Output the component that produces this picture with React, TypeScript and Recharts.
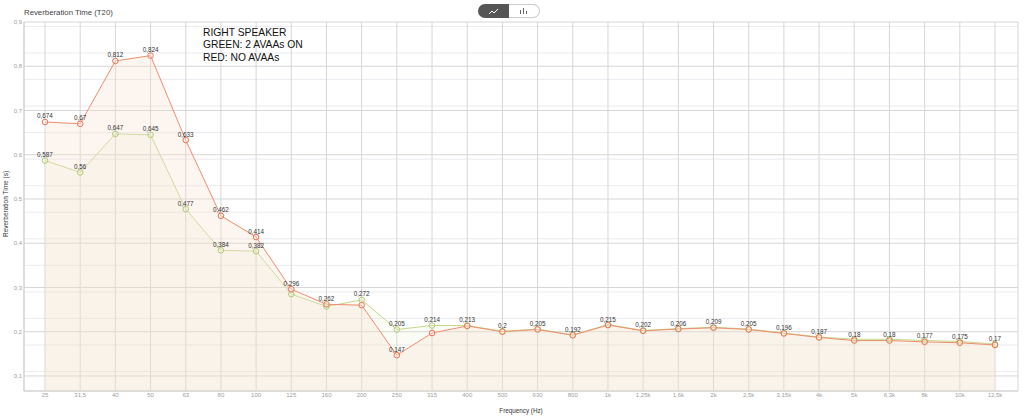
import { ComposedChart, Area, XAxis, YAxis, CartesianGrid, LabelList } from 'recharts';

const frequencies = ['25', '31,5', '40', '50', '63', '80', '100', '125', '160', '200', '250', '315', '400', '500', '630', '800', '1k', '1,25k', '1,6k', '2k', '2,5k', '3,15k', '4k', '5k', '6,3k', '8k', '10k', '12,5k'];

// RED: no AVAAs
const noAvaas = [0.674, 0.67, 0.812, 0.824, 0.633, 0.462, 0.414, 0.296, 0.262, 0.26, 0.147, 0.197, 0.213, 0.2, 0.205, 0.192, 0.215, 0.202, 0.206, 0.209, 0.205, 0.196, 0.187, 0.18, 0.18, 0.177, 0.175, 0.17];

// GREEN: 2 AVAAs on
const twoAvaasOn = [0.587, 0.56, 0.647, 0.645, 0.477, 0.384, 0.382, 0.285, 0.257, 0.272, 0.205, 0.214, 0.214, 0.201, 0.206, 0.193, 0.216, 0.203, 0.207, 0.21, 0.206, 0.197, 0.188, 0.183, 0.183, 0.18, 0.178, 0.172];

const yTicks = [0.1, 0.2, 0.3, 0.4, 0.5, 0.6, 0.7, 0.8, 0.9];

const data = frequencies.map((f, i) => ({ freq: f, red: noAvaas[i], green: twoAvaasOn[i] }));

// minor gridlines every 0.01
const minorLines: number[] = [];
for (let v = 7; v < 90; v++) minorLines.push(v / 100);

const RED = '#ef8d6d';
const GREEN = '#c4d98b';
const FONT = '"Liberation Sans", Arial, Helvetica, sans-serif';

const fmt = (v: number) => String(v).replace('.', ',');

// hide labels that would overlap, the way the original chart does
const showGreen = (i: number) => {
  const d = twoAvaasOn[i] - noAvaas[i];
  return d > 0.005 || d < -0.025;
};
const showRed = (i: number) => {
  const d = twoAvaasOn[i] - noAvaas[i];
  return !(showGreen(i) && d > 0 && d < 0.025);
};

const makeLabel = (which: 'red' | 'green') => (props: any) => {
  const { x, y, value, index } = props;
  const ok = which === 'red' ? showRed(index) : showGreen(index);
  if (!ok) return null;
  return (
    <text x={x} y={y - 3.5} textAnchor="middle" fontSize={6.3} fill="#333" fontFamily={FONT}>
      {fmt(value)}
    </text>
  );
};

function Toggle() {
  return (
    <div style={{ position: 'absolute', left: 478, top: 4, width: 62, height: 14, display: 'flex' }}>
      <div style={{ width: 31, height: 14, background: '#555', borderRadius: '7px 0 0 7px', display: 'flex', alignItems: 'center', justifyContent: 'center' }}>
        <svg width="10" height="7">
          <polyline points="0,6 3,3 5,5 9,1" fill="none" stroke="#fff" strokeWidth="1" />
        </svg>
      </div>
      <div style={{ width: 30, height: 12, background: '#fff', border: '1px solid #ccc', borderLeft: 'none', borderRadius: '0 7px 7px 0', display: 'flex', alignItems: 'center', justifyContent: 'center' }}>
        <svg width="8" height="6">
          <rect x="0" y="2" width="1" height="4" fill="#666" />
          <rect x="3" y="0" width="1" height="6" fill="#666" />
          <rect x="6" y="3" width="1" height="3" fill="#666" />
        </svg>
      </div>
    </div>
  );
}

export default function App() {
  return (
    <div style={{ position: 'absolute', left: 0, top: 0, width: 1024, height: 420, background: '#fff', fontFamily: FONT }}>
      <ComposedChart width={1024} height={420} data={data} margin={{ top: 22, right: 6, left: 0, bottom: 0 }}>
        <CartesianGrid horizontalValues={minorLines} vertical={false} stroke="#ebebf1" strokeWidth={1} />
        <CartesianGrid stroke="#d6d6d6" strokeWidth={1} />
        <XAxis
          dataKey="freq"
          scale="point"
          padding={{ left: 21, right: 23 }}
          height={29}
          tickLine={false}
          tickSize={2}
          tickMargin={0}
          axisLine={{ stroke: '#d0d0d0' }}
          tick={{ fontSize: 6, fill: '#a0a0a0', fontFamily: FONT }}
          interval={0}
        />
        <YAxis
          domain={[0.066, 0.9]}
          ticks={yTicks}
          allowDataOverflow
          width={24}
          tickLine={false}
          tickSize={0}
          tickMargin={2}
          axisLine={{ stroke: '#d0d0d0' }}
          tick={{ fontSize: 6, fill: '#a0a0a0', fontFamily: FONT }}
          tickFormatter={fmt}
        />
        <YAxis yAxisId="edge" orientation="right" width={0} tick={false} tickLine={false} axisLine={{ stroke: '#d0d0d0' }} />
        <Area
          type="linear"
          dataKey="green"
          stroke={GREEN}
          strokeWidth={1}
          fill="#e3ebc4"
          fillOpacity={0.15}
          dot={{ r: 2.8, fill: '#fff', stroke: '#b2cc6e', strokeWidth: 1 }}
          isAnimationActive={false}
        >
          <LabelList dataKey="green" content={makeLabel('green')} />
        </Area>
        <Area
          type="linear"
          dataKey="red"
          stroke={RED}
          strokeWidth={1}
          fill="#f6dfcc"
          fillOpacity={0.3}
          dot={{ r: 2.8, fill: '#fff', stroke: '#ea7350', strokeWidth: 1 }}
          isAnimationActive={false}
        >
          <LabelList dataKey="red" content={makeLabel('red')} />
        </Area>
      </ComposedChart>

      <div style={{ position: 'absolute', left: 24, top: 8, fontSize: 7.8, color: '#444', whiteSpace: 'nowrap' }}>Reverberation Time (T20)</div>
      <Toggle />
      <div style={{ position: 'absolute', left: 203, top: 26.6, fontSize: 10.3, lineHeight: '12.8px', color: '#111', whiteSpace: 'nowrap' }}>
        RIGHT SPEAKER<br />
        GREEN: 2 AVAAs ON<br />
        RED: NO AVAAs
      </div>
      <div style={{ position: 'absolute', left: 421, top: 407, width: 200, textAlign: 'center', fontSize: 6.3, color: '#333' }}>Frequency (Hz)</div>
      <div
        style={{
          position: 'absolute',
          left: 5,
          top: 204,
          fontSize: 6.5,
          color: '#333',
          whiteSpace: 'nowrap',
          transform: 'translate(-50%, -50%) rotate(-90deg)',
        }}
      >
        Reverberation Time (s)
      </div>
    </div>
  );
}
